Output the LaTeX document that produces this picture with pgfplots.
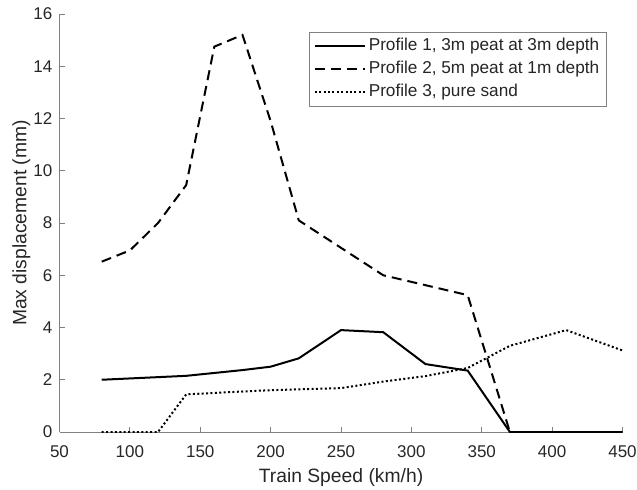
\documentclass[border=0pt]{standalone}
\usepackage{fontspec}
\setmainfont{Liberation Sans}
\usepackage{pgfplots}
\pgfplotsset{compat=1.18}

\definecolor{axgray}{RGB}{128,128,128}
\definecolor{txt}{RGB}{38,38,38}

\begin{document}
\begin{tikzpicture}
\begin{axis}[
  scale only axis,
  width=563bp, height=418bp,
  xmin=50, xmax=450, ymin=0, ymax=16,
  xtick={50,100,...,450},
  ytick={0,2,...,16},
  axis lines=left,
  axis line style={-, axgray, line width=0.8bp},
  tick style={axgray, line width=0.8bp},
  tick align=inside,
  major tick length=5bp,
  /pgf/number format/assume math mode=true,
  ticklabel style={font=\fontsize{17bp}{20bp}\selectfont, text=txt, inner sep=0pt},
  xticklabel style={anchor=center, yshift=-19.5bp},
  yticklabel style={anchor=east, xshift=-7bp},
  xlabel={Train Speed (km/h)},
  ylabel={Max displacement (mm)},
  label style={font=\fontsize{19.3bp}{22bp}\selectfont, text=txt},
  xlabel style={at={(axis description cs:0.5,0)}, anchor=center, yshift=-45.5bp},
  ylabel style={at={(axis description cs:0,0.5)}, anchor=center, yshift=38bp},
  legend cell align=left,
  legend style={at={(axis description cs:1,1)}, anchor=north east,
    xshift=-16bp, yshift=-18bp, draw=axgray, line width=0.6bp,
    font=\fontsize{17.2bp}{20bp}\selectfont, text=txt,
    inner sep=4bp, row sep=3bp,
    nodes={inner xsep=3bp, inner ysep=2bp, text height=12bp, text depth=4bp}},
  legend image code/.code={\draw[#1] (0bp,0bp) -- (50bp,0bp);},
]
\addplot[black, line width=2bp] coordinates {
  (80,2.0) (140,2.15) (180,2.37) (200,2.5) (220,2.82) (250,3.9)
  (280,3.82) (310,2.6) (340,2.35) (370,0) (450,0)};
\addlegendentry{Profile 1, 3m peat at 3m depth}
\addplot[black, line width=2bp, dash pattern=on 10bp off 6bp] coordinates {
  (80,6.52) (100,6.95) (120,8.0) (140,9.45) (160,14.75) (180,15.2)
  (200,11.9) (220,8.1) (250,7.05) (280,6.0) (310,5.62) (340,5.24) (370,0)};
\addlegendentry{Profile 2, 5m peat at 1m depth}
\addplot[black, line width=2bp, dash pattern=on 2bp off 2.4bp] coordinates {
  (80,0) (120,0) (140,1.44) (180,1.55) (200,1.6) (250,1.68)
  (280,1.93) (310,2.14) (340,2.45) (370,3.3) (410,3.9) (450,3.12)};
\addlegendentry{Profile 3, pure sand}
\coordinate (bl) at (rel axis cs:0,0);
\coordinate (tr) at (rel axis cs:1,1);
\end{axis}
\path ([shift={(-59.5bp,-55bp)}]bl) rectangle ([shift={(14.5bp,14bp)}]tr);
\end{tikzpicture}
\end{document}
